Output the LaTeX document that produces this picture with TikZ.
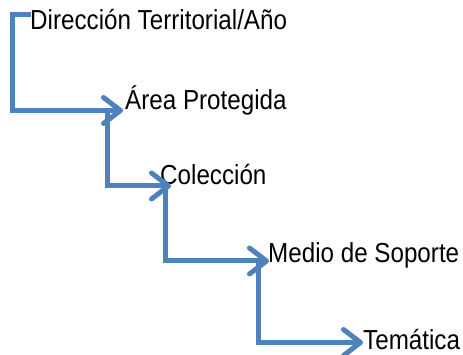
\documentclass[tikz,border=0pt]{standalone}
\usepackage{fontspec}
\setmainfont{Liberation Sans}
\usetikzlibrary{arrows.meta}
\definecolor{conn}{HTML}{4F81BD}
\newcommand{\lbl}[1]{\scalebox{0.88}[1]{\fontsize{27.5}{30}\selectfont #1}}
\begin{document}
\begin{tikzpicture}[x=1pt,y=-1pt,
  lab/.style={anchor=base west,inner sep=0pt,text=black},
  link/.style={draw=conn,line width=5pt,line join=miter,-{Straight Barb[length=17pt,width=26pt,line width=5pt,round]}}]
\useasboundingbox (0,0) rectangle (463,355);
\node[lab] (t1) at (30,30) {\lbl{Dirección Territorial/Año}};
\node[lab] (t2) at (125,110) {\lbl{Área Protegida}};
\node[lab] (t3) at (160,185) {\lbl{Colección}};
\node[lab] (t4) at (268,263) {\lbl{Medio de Soporte}};
\node[lab] (t5) at (363,349) {\lbl{Temática}};
\coordinate (s1) at (31,15);
\coordinate (e1) at (123,110.5);
\coordinate (s2) at (107,110.5);
\coordinate (e2) at (171,186);
\coordinate (s3) at (165,183);
\coordinate (e3) at (269,261);
\coordinate (s4) at (258,261);
\coordinate (e4) at (363,342.5);
\draw[link] (s1) -- (12.5,15) |- (e1);
\draw[link] (s2) |- (e2);
\draw[link] (s3) |- (e3);
\draw[link] (s4) |- (e4);
\end{tikzpicture}
\end{document}
